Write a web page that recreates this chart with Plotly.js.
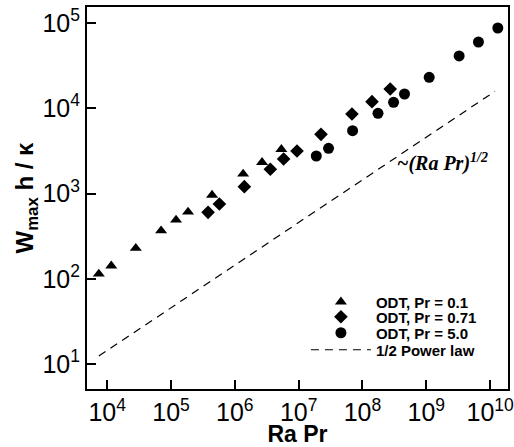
<!DOCTYPE html>
<html>
<head>
<meta charset="utf-8">
<script src="https://cdn.plot.ly/plotly-3.0.1.min.js"></script>
<style>html,body{margin:0;padding:0;background:#fff;}#chart{width:514px;height:447px;}</style>
</head>
<body>
<div id="chart"></div>
<script>
// ODT, Pr = 0.1 (triangles)
const raPr01 = [7.4e3, 1.16e4, 2.81e4, 7.0e4, 1.20e5, 1.85e5, 4.4e5, 1.35e6, 2.67e6, 5.36e6];
const w01    = [114, 142, 228, 366, 489, 607, 959, 1694, 2323, 3296];
// ODT, Pr = 0.71 (diamonds)
const raPr071 = [3.81e5, 5.73e5, 1.41e6, 3.60e6, 5.82e6, 9.42e6, 2.24e7, 6.84e7, 1.41e8, 2.72e8];
const w071    = [601, 753, 1202, 1923, 2541, 3155, 4943, 8570, 11940, 16830];
// ODT, Pr = 5.0 (circles)
const raPr5 = [1.89e7, 2.94e7, 7.0e7, 1.75e8, 3.07e8, 4.56e8, 1.11e9, 3.27e9, 6.56e9, 1.32e10];
const w5    = [2754, 3388, 5458, 8730, 11750, 14690, 23070, 41020, 59840, 87300];
// 1/2 power law (end points)
const powX = [7.4e3, 1.19e10];
const powY = [12.4, 15800];

const names = ['ODT, Pr = 0.1', 'ODT, Pr = 0.71', 'ODT, Pr = 5.0', '1/2 Power law'];
const xTickVals = [1e4, 1e5, 1e6, 1e7, 1e8, 1e9, 1e10];
const xTickText = ['10<sup>4</sup>','10<sup>5</sup>','10<sup>6</sup>','10<sup>7</sup>','10<sup>8</sup>','10<sup>9</sup>','10<sup>10</sup>'];
const yTickVals = [1e1, 1e2, 1e3, 1e4, 1e5];
const yTickText = ['10<sup>1</sup>','10<sup>2</sup>','10<sup>3</sup>','10<sup>4</sup>','10<sup>5</sup>'];

const traces = [
  {x: raPr01, y: w01, name: names[0], mode: 'markers', type: 'scatter', legend: 'legend',
   marker: {symbol: 'triangle-up', size: 10.5, color: '#000'}},
  {x: raPr071, y: w071, name: names[1], mode: 'markers', type: 'scatter', legend: 'legend2',
   marker: {symbol: 'diamond', size: 10.5, color: '#000'}},
  {x: raPr5, y: w5, name: names[2], mode: 'markers', type: 'scatter', legend: 'legend3',
   marker: {symbol: 'circle', size: 11, color: '#000'}},
  {x: powX, y: powY, name: names[3], mode: 'lines', type: 'scatter', legend: 'legend4',
   line: {color: '#000', width: 1.2, dash: '8px,6px'}}
];

const FONT = 'Liberation Sans, Arial, sans-serif';
const axisCommon = {
  type: 'log', showgrid: false, zeroline: false, showline: true, mirror: true,
  linecolor: '#000', linewidth: 2, ticks: 'inside', ticklen: 9, tickwidth: 2, tickcolor: '#000',
  ticklabeloverflow: 'allow',
  tickfont: {family: FONT, size: 25, color: '#000'}
};

function legendAt(y) {
  return {
    x: 0.52, y: y, xanchor: 'left', yanchor: 'middle',
    bgcolor: 'rgba(0,0,0,0)', borderwidth: 0,
    font: {family: FONT, size: 15, color: '#000', weight: 'bold'},
    itemwidth: 60
  };
}

const layout = {
  width: 514, height: 447,
  margin: {l: 87, r: 6, t: 7, b: 58},
  paper_bgcolor: '#fff', plot_bgcolor: '#fff',
  font: {family: FONT, color: '#000'},
  xaxis: Object.assign({}, axisCommon, {
    range: [3.684, 10.28], tickvals: xTickVals, ticktext: xTickText,
    title: {text: '<b>Ra Pr</b>', font: {size: 23, family: FONT}, standoff: 3}
  }),
  yaxis: Object.assign({}, axisCommon, {
    range: [0.707, 5.1875], tickvals: yTickVals, ticktext: yTickText,
    title: {text: '<b>W<sub>max</sub> h / κ</b>', font: {size: 24, family: FONT}, standoff: 0}
  }),
  showlegend: true,
  legend: legendAt(0.2277),
  legend2: legendAt(0.1885),
  legend3: legendAt(0.1466),
  legend4: legendAt(0.1021),
  annotations: [{
    x: 8.513, y: 3.358, xref: 'x', yref: 'y', xanchor: 'left', yanchor: 'middle', showarrow: false,
    text: '<b><i>~(Ra Pr)<sup>1/2</sup></i></b>',
    font: {family: 'Liberation Serif, Times New Roman, serif', size: 20, color: '#000'}
  }]
};

Plotly.newPlot('chart', traces, layout, {staticPlot: true, displayModeBar: false});
</script>
</body>
</html>
